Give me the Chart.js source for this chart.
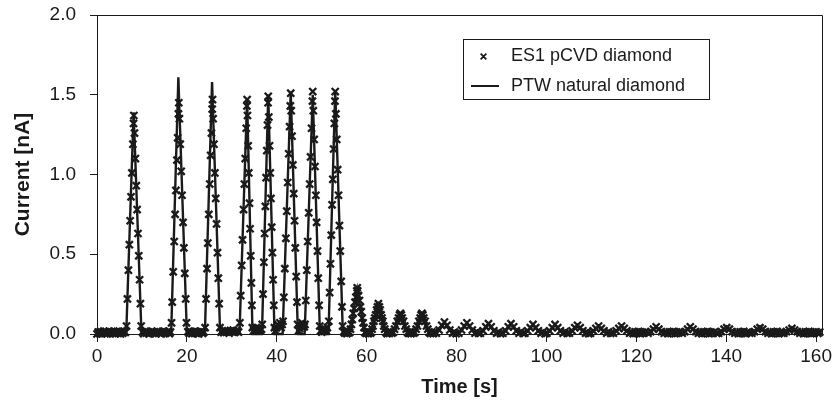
<!DOCTYPE html>
<html>
<head>
<meta charset="utf-8">
<script src="https://cdn.jsdelivr.net/npm/chart.js@4.4.1/dist/chart.umd.min.js"></script>
<style>
html,body{margin:0;padding:0;background:#fff;}
#wrap{width:834px;height:405px;position:relative;}
</style>
</head>
<body>
<div id="wrap"><canvas id="c" width="834" height="405"></canvas></div>
<script>
// ---- data ----
const seriesNames = ['ES1 pCVD diamond', 'PTW natural diamond'];
const axisTitles = ['Time [s]', 'Current [nA]'];
const xTickValues = [0, 20, 40, 60, 80, 100, 120, 140, 160];
const yTickValues = [0, 0.5, 1, 1.5, 2];
const yTickLabels = ['0.0', '0.5', '1.0', '1.5', '2.0'];

// ES1 pCVD diamond (markers)
const es1Time = [
  0,0.25,0.5,0.75,1,1.25,1.5,1.75,2,2.25,2.5,2.75,3,3.25,3.5,3.75,4,4.25,4.5,4.75,5,5.25,5.5,5.75,6,6.3,
  6.57,6.77,6.99,7.2,7.38,7.57,7.76,7.98,8.13,8.2,8.34,8.54,8.74,8.93,9.12,9.29,9.48,9.66,9.83,
  10.1,10.4,10.7,11.0,11.3,11.6,11.9,12.2,12.5,12.8,13.1,13.4,13.7,14.0,14.3,14.6,14.9,15.2,15.5,15.8,16.1,16.35,
  16.59,16.74,16.96,17.18,17.38,17.55,17.78,17.95,18.12,18.2,18.33,18.52,18.74,18.92,19.14,19.33,19.53,19.73,19.91,
  20.2,20.5,20.8,21.1,21.4,21.7,22.0,22.3,22.6,22.9,23.2,23.5,23.8,
  24.05,24.26,24.48,24.66,24.87,25.09,25.29,25.46,25.63,25.7,25.84,26.02,26.23,26.41,26.6,26.81,26.99,27.18,27.35,
  27.6,27.9,28.2,28.5,28.8,29.1,29.4,29.7,30.0,30.3,30.6,30.9,31.2,31.5,
  31.79,31.97,32.19,32.38,32.6,32.79,32.98,33.2,33.35,33.4,33.48,33.64,33.77,33.93,34.06,34.2,34.34,34.46,34.56,
  34.85,35.15,35.45,35.75,36.05,36.35,36.6,
  36.76,36.94,37.12,37.29,37.46,37.62,37.78,37.93,38.06,38.1,38.23,38.39,38.55,38.7,38.87,39.02,39.18,39.33,39.46,
  39.7,39.95,40.2,40.45,40.7,40.95,41.2,
  41.39,41.57,41.79,42.02,42.22,42.43,42.65,42.85,43.01,43.1,43.21,43.39,43.58,43.77,43.95,44.12,44.32,44.49,44.64,
  44.85,45.1,45.35,45.6,45.85,46.1,
  46.27,46.45,46.67,46.88,47.1,47.32,47.51,47.73,47.93,48,48.13,48.32,48.5,48.69,48.86,49.06,49.23,49.41,49.55,
  49.75,50.0,50.25,50.5,50.75,51.0,51.25,
  51.58,51.76,51.94,52.12,52.3,52.46,52.64,52.81,52.94,53,53.15,53.34,53.54,53.73,53.94,54.12,54.33,54.51,54.65,
  54.85,55.1,55.35,55.6,55.85,56.05,
  56.2,56.4,56.6,56.8,57.0,57.2,57.4,57.6,57.8,57.9,58.0,58.2,58.4,58.6,58.8,59.0,59.2,59.4,59.6,
  59.85,60.1,60.35,60.6,60.85,
  61.0,61.2,61.4,61.6,61.8,62.0,62.2,62.4,62.6,62.8,63.0,63.2,63.4,63.6,63.8,64.0,64.3,
  64.55,64.8,65.05,65.3,65.6,
  65.9,66.2,66.5,66.8,67.1,67.3,67.5,67.7,67.9,68.2,68.5,68.8,69.1,
  69.35,69.6,69.85,70.1,70.4,
  70.7,71.0,71.3,71.6,71.9,72.1,72.3,72.5,72.7,73.0,73.3,73.6,73.9,
  74.2,74.5,74.8,75.1,
  75.5,76.1,76.7,77.3,77.9,78.5,79.1, 79.5,79.9,
  80.5,81.1,81.7,82.3,82.9,83.5,84.1, 84.5,84.9,
  85.3,85.9,86.5,87.1,87.7,88.3,88.9, 89.3,89.8,
  90.3,90.9,91.5,92.1,92.7,93.3,93.9, 94.3,94.8,
  95.2,95.8,96.4,97.0,97.6,98.2,98.8, 99.2,99.7,
  100.1,100.7,101.3,101.9,102.5,103.1,103.7, 104.1,104.6,
  105.1,105.7,106.3,106.9,107.5,108.1,108.7, 109.0,109.4,
  109.8,110.4,111.0,111.6,112.2,112.8,113.4, 113.8,114.3,
  114.9,115.5,116.1,116.7,117.3,117.9,118.5,
  118.9,119.3,119.7,120.1,120.5,120.9,121.3,121.7,122.1,
  122.6,123.2,123.8,124.4,125.0,125.6,126.2,
  126.6,127.0,127.4,127.8,128.2,128.6,129.0,129.4,129.8,
  130.2,130.8,131.4,132.0,132.6,133.2,133.8,
  134.2,134.6,135.0,135.4,135.8,136.2,136.6,137.0,137.4,137.9,
  138.3,138.9,139.5,140.1,140.7,141.3,141.9,
  142.3,142.7,143.1,143.5,143.9,144.3,144.7,145.2,
  145.7,146.3,146.9,147.5,148.1,148.7,149.3,
  149.7,150.1,150.5,150.9,151.3,151.7,152.1,152.4,
  152.8,153.4,154.0,154.6,155.2,155.8,156.4,
  156.8,157.2,157.6,158.0,158.4,158.8,159.2,159.6,160.0,160.4,160.8
];
const es1Current = [
  0,0.012,0.004,0.016,0.002,0.01,0.018,0.004,0.014,0,0.008,0.016,0.002,0.012,0.006,0.018,0.002,0.01,0.016,0.004,0.012,0,0.014,0.006,0.018,0.01,
  0.05,0.22,0.4,0.56,0.71,0.86,1.01,1.19,1.32,1.37,1.26,1.1,0.93,0.78,0.63,0.49,0.34,0.19,0.05,
  0.012,0.002,0.016,0.006,0.014,0,0.01,0.018,0.004,0.012,0.002,0.016,0.008,0.014,0,0.012,0.018,0.004,0.01,0.016,0.002,0.012,
  0.07,0.2,0.39,0.58,0.75,0.9,1.09,1.23,1.38,1.45,1.35,1.19,1.02,0.87,0.7,0.54,0.38,0.22,0.07,
  0.014,0.004,0.016,0.002,0.012,0.018,0.006,0.014,0,0.01,0.016,0.004,0.012,
  0.04,0.22,0.41,0.57,0.75,0.94,1.12,1.26,1.41,1.47,1.35,1.19,1.01,0.85,0.69,0.51,0.35,0.19,0.04,
  0.012,0.02,0.008,0.022,0.012,0.018,0.006,0.02,0.014,0.024,0.01,0.018,0.022,0.012,
  0.07,0.24,0.43,0.59,0.78,0.94,1.1,1.29,1.43,1.47,1.37,1.18,1.01,0.82,0.66,0.49,0.32,0.18,0.04,
  0.02,0.03,0.04,0.028,0.036,0.022,0.03,
  0.06,0.25,0.45,0.63,0.8,0.98,1.15,1.31,1.45,1.49,1.36,1.18,1.01,0.85,0.67,0.51,0.34,0.18,0.04,
  0.02,0.04,0.06,0.05,0.07,0.04,0.06,
  0.08,0.23,0.41,0.6,0.77,0.95,1.13,1.3,1.43,1.51,1.4,1.24,1.06,0.88,0.71,0.54,0.36,0.2,0.06,
  0.02,0.035,0.05,0.07,0.055,0.045,
  0.06,0.21,0.4,0.58,0.76,0.94,1.11,1.29,1.46,1.52,1.4,1.22,1.05,0.87,0.7,0.52,0.35,0.18,0.05,
  0.02,0.012,0.028,0.018,0.03,0.02,0.04,
  0.08,0.26,0.44,0.62,0.81,0.97,1.16,1.32,1.46,1.52,1.38,1.22,1.03,0.87,0.68,0.52,0.33,0.17,0.05,
  0.014,0.006,0.016,0.002,0.012,0.008,
  0.01,0.03,0.06,0.09,0.13,0.16,0.2,0.23,0.27,0.29,0.27,0.24,0.21,0.17,0.14,0.1,0.07,0.04,0.01,
  0.004,0.014,0.002,0.012,0.006,
  0.01,0.03,0.05,0.08,0.1,0.12,0.15,0.17,0.19,0.17,0.15,0.12,0.1,0.08,0.05,0.03,0.01,
  0.002,0.012,0.004,0.014,0.006,
  0.01,0.03,0.05,0.08,0.1,0.12,0.13,0.12,0.1,0.08,0.05,0.03,0.01,
  0.004,0.014,0.002,0.012,0.006,
  0.01,0.03,0.05,0.08,0.1,0.12,0.13,0.12,0.1,0.08,0.05,0.03,0.01,
  0.004,0.014,0.002,0.012,
  0.005,0.025,0.055,0.075,0.055,0.025,0.005, 0.012,0.002,
  0.005,0.025,0.05,0.07,0.05,0.025,0.005, 0.014,0.004,
  0.005,0.02,0.045,0.065,0.045,0.02,0.005, 0.012,0.002,
  0.005,0.02,0.045,0.065,0.045,0.02,0.005, 0.014,0.004,
  0.005,0.02,0.04,0.06,0.04,0.02,0.005, 0.012,0.002,
  0.005,0.02,0.04,0.06,0.04,0.02,0.005, 0.014,0.004,
  0.005,0.02,0.04,0.055,0.04,0.02,0.005, 0.012,0.002,
  0.005,0.02,0.035,0.05,0.035,0.02,0.005, 0.014,0.004,
  0.005,0.02,0.035,0.05,0.035,0.02,0.005,
  0.012,0.002,0.014,0.004,0.016,0.002,0.012,0.006,0.014,
  0.005,0.015,0.03,0.045,0.03,0.015,0.005,
  0.012,0.002,0.014,0.004,0.016,0.002,0.012,0.006,0.014,
  0.005,0.015,0.03,0.045,0.03,0.015,0.005,
  0.012,0.002,0.014,0.004,0.016,0.002,0.012,0.006,0.014,0.004,
  0.005,0.015,0.03,0.04,0.03,0.015,0.005,
  0.012,0.002,0.014,0.004,0.016,0.002,0.012,0.006,
  0.005,0.015,0.03,0.04,0.03,0.015,0.005,
  0.012,0.002,0.014,0.004,0.016,0.002,0.012,0.006,
  0.005,0.015,0.025,0.035,0.025,0.015,0.005,
  0.012,0.002,0.014,0.004,0.016,0.002,0.012,0.006,0.014,0.004,0.012
];

// PTW natural diamond (solid line)
const ptwTime = [
  0,
  6.5,8.15,9.9, 16.5,18.1,20.0, 24.0,25.6,27.4, 31.7,33.4,34.6,
  36.7,38.1,39.5, 41.3,43.1,44.7, 46.2,48.0,49.6, 51.5,53.0,54.7,
  56.2,57.9,59.6, 61.0,62.6,64.3, 65.9,67.5,69.1, 70.7,72.3,73.9,
  75.5,77.3,79.1, 80.5,82.3,84.1, 85.3,87.1,88.9, 90.3,92.1,93.9,
  95.2,97.0,98.8, 100.1,101.9,103.7, 105.1,106.9,108.7, 109.8,111.6,113.4,
  114.9,116.7,118.5, 122.6,124.4,126.2, 130.2,132.0,133.8, 138.3,140.1,141.9,
  145.7,147.5,149.3, 152.8,154.6,156.4,
  160.6,161.3
];
const ptwCurrent = [
  0,
  0,1.39,0, 0,1.61,0, 0,1.58,0, 0,1.48,0,
  0,1.5,0, 0,1.52,0, 0,1.5,0, 0,1.53,0,
  0,0.28,0, 0,0.18,0, 0,0.12,0, 0,0.12,0,
  0,0.07,0, 0,0.065,0, 0,0.06,0, 0,0.06,0,
  0,0.055,0, 0,0.055,0, 0,0.05,0, 0,0.045,0,
  0,0.045,0, 0,0.04,0, 0,0.04,0, 0,0.035,0,
  0,0.035,0, 0,0.03,0,
  0,0.03
];

// ---- drawing ----
const ink = '#1a1a1a';
const family = "'Liberation Sans', Arial, Helvetica, sans-serif";
const toPoints = (xs, ys) => xs.map((x, i) => ({ x: x, y: ys[i] }));
if (es1Time.length !== es1Current.length) console.warn('es1 length mismatch', es1Time.length, es1Current.length);
if (ptwTime.length !== ptwCurrent.length) console.warn('ptw length mismatch', ptwTime.length, ptwCurrent.length);

function drawCross(c, x, y, r) {
  const o = r * Math.SQRT1_2;
  c.beginPath();
  c.moveTo(x - o, y - o); c.lineTo(x + o, y + o);
  c.moveTo(x + o, y - o); c.lineTo(x - o, y + o);
  c.stroke();
}

const framePlugin = {
  id: 'frame',
  afterDraw(chart) {
    const a = chart.chartArea, c = chart.ctx;
    c.save();
    c.strokeStyle = ink; c.lineWidth = 1;
    c.beginPath();
    c.moveTo(Math.round(a.left) + 0.5, Math.round(a.top) + 0.5);
    c.lineTo(Math.round(a.right) + 0.5, Math.round(a.top) + 0.5);
    c.lineTo(Math.round(a.right) + 0.5, Math.round(a.bottom) + 0.5);
    c.stroke();
    c.restore();
  }
};

const legendPlugin = {
  id: 'boxLegend',
  afterDraw(chart) {
    const c = chart.ctx;
    const ds = chart.data.datasets;
    c.save();
    c.fillStyle = '#fff';
    c.fillRect(463.5, 39.5, 246, 60);
    c.strokeStyle = ink; c.lineWidth = 1;
    c.strokeRect(463.5, 39.5, 246, 60);
    // marker sample
    c.lineWidth = 1.8;
    drawCross(c, 483.5, 56.5, 4);
    // line sample
    c.lineWidth = 2;
    c.beginPath(); c.moveTo(471, 86); c.lineTo(499, 86); c.stroke();
    c.fillStyle = ink;
    c.font = '18px ' + family;
    c.textBaseline = 'middle';
    c.textAlign = 'left';
    c.fillText(ds[0].label, 511, 56);
    c.fillText(ds[1].label, 511, 86);
    c.restore();
  }
};

new Chart(document.getElementById('c'), {
  type: 'scatter',
  data: {
    datasets: [
      {
        label: seriesNames[0],
        data: toPoints(es1Time, es1Current),
        showLine: false,
        pointStyle: 'crossRot',
        pointRadius: 5,
        pointBorderWidth: 2.3,
        pointBorderColor: ink,
        pointBackgroundColor: ink,
        borderColor: ink,
        clip: false
      },
      {
        label: seriesNames[1],
        data: toPoints(ptwTime, ptwCurrent),
        showLine: true,
        borderColor: ink,
        borderWidth: 2.4,
        pointRadius: 0,
        tension: 0,
        clip: false
      }
    ]
  },
  options: {
    responsive: false,
    animation: false,
    devicePixelRatio: 1,
    events: [],
    layout: { padding: { left: 0, right: 12, top: 15, bottom: 0 } },
    plugins: { legend: { display: false }, tooltip: { enabled: false } },
    scales: {
      x: {
        type: 'linear', position: 'bottom', min: 0, max: 161.3,
        afterFit: s => { s.height = 71; s.paddingLeft = 0; s.paddingRight = 0; },
        afterBuildTicks: s => { s.ticks = xTickValues.map(v => ({ value: v })); },
        grid: { display: true, drawOnChartArea: false, drawTicks: true, tickLength: 8, color: ink, tickColor: ink, lineWidth: 1 },
        border: { display: true, color: ink, width: 1 },
        ticks: { font: { family: family, size: 19 }, color: ink, padding: 3, maxRotation: 0, autoSkip: false,
                 callback: v => String(v) },
        title: { display: true, text: axisTitles[0], color: ink, font: { family: family, size: 20, weight: 'bold' },
                 padding: { top: 0, bottom: 6 } }
      },
      y: {
        type: 'linear', position: 'left', min: 0, max: 2,
        afterFit: s => { s.width = 97; s.paddingTop = 0; s.paddingBottom = 0; },
        afterBuildTicks: s => { s.ticks = yTickValues.map(v => ({ value: v })); },
        grid: { display: true, drawOnChartArea: false, drawTicks: true, tickLength: 7, color: ink, tickColor: ink, lineWidth: 1 },
        border: { display: true, color: ink, width: 1 },
        ticks: { font: { family: family, size: 19 }, color: ink, padding: 14,
                 callback: v => yTickLabels[yTickValues.indexOf(v)] },
        title: { display: true, text: axisTitles[1], color: ink, font: { family: family, size: 21, weight: 'bold' },
                 padding: { top: 11, bottom: 0 } }
      }
    }
  },
  plugins: [framePlugin, legendPlugin]
});
</script>
</body>
</html>
